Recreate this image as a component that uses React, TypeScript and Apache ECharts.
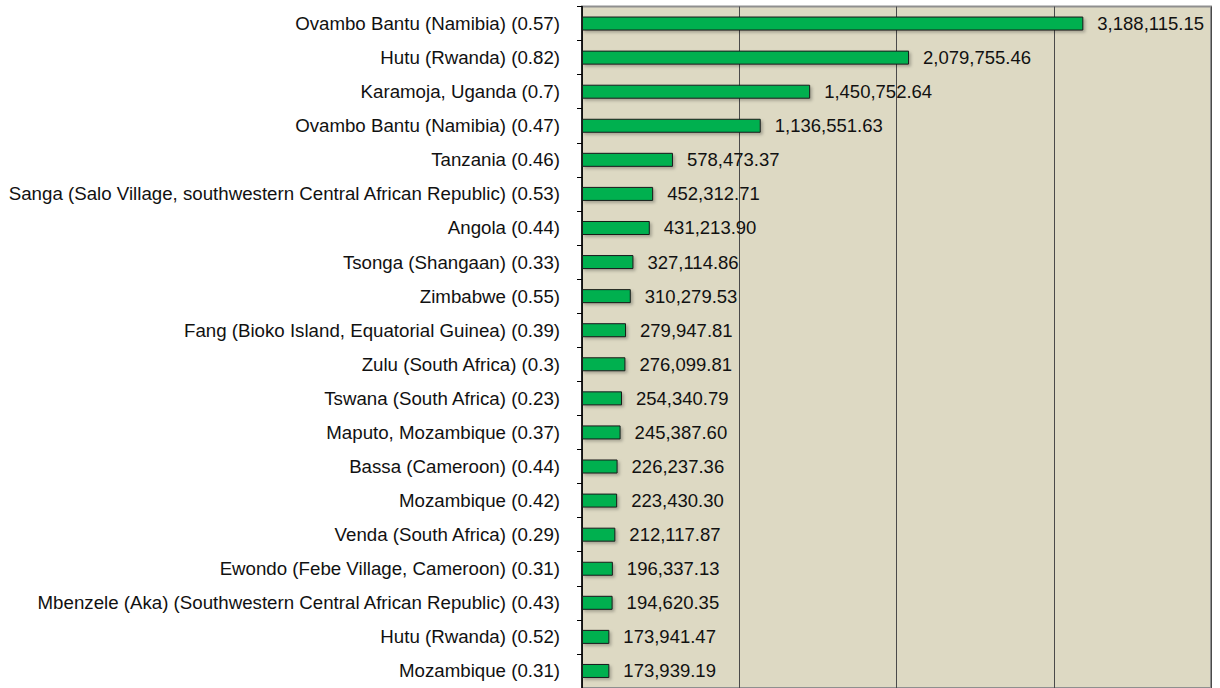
import React, { useEffect, useRef } from "react";
import * as echarts from "echarts";

const categories: string[] = [
  "Ovambo Bantu (Namibia) (0.57)",
  "Hutu (Rwanda) (0.82)",
  "Karamoja, Uganda (0.7)",
  "Ovambo Bantu (Namibia) (0.47)",
  "Tanzania (0.46)",
  "Sanga (Salo Village, southwestern Central African Republic) (0.53)",
  "Angola (0.44)",
  "Tsonga (Shangaan) (0.33)",
  "Zimbabwe (0.55)",
  "Fang (Bioko Island, Equatorial Guinea) (0.39)",
  "Zulu (South Africa) (0.3)",
  "Tswana (South Africa) (0.23)",
  "Maputo, Mozambique (0.37)",
  "Bassa (Cameroon) (0.44)",
  "Mozambique (0.42)",
  "Venda (South Africa) (0.29)",
  "Ewondo (Febe Village, Cameroon) (0.31)",
  "Mbenzele (Aka) (Southwestern Central African Republic) (0.43)",
  "Hutu (Rwanda) (0.52)",
  "Mozambique (0.31)",
];

const values: number[] = [
  3188115.15, 2079755.46, 1450752.64, 1136551.63, 578473.37, 452312.71,
  431213.9, 327114.86, 310279.53, 279947.81, 276099.81, 254340.79,
  245387.6, 226237.36, 223430.3, 212117.87, 196337.13, 194620.35,
  173941.47, 173939.19,
];

const axisMin = 0;
const axisMax = 4000000;
const axisInterval = 1000000;

const fmt = new Intl.NumberFormat("en-US", {
  minimumFractionDigits: 2,
  maximumFractionDigits: 2,
});

const FONT = "'Liberation Sans', Arial, Helvetica, sans-serif";

export default function App() {
  const ref = useRef<HTMLDivElement>(null);
  useEffect(() => {
    document.body.style.margin = "0";
    if (!ref.current) return;
    const chart = echarts.init(ref.current, null, { renderer: "svg" });
    chart.setOption({
      animation: false,
      backgroundColor: "#ffffff",
      textStyle: { fontFamily: FONT },
      grid: {
        show: true,
        left: 582,
        top: 6.5,
        right: 9,
        height: 684,
        backgroundColor: "#DDD9C3",
        borderColor: "#8f8f8f",
        borderWidth: 2,
        containLabel: false,
      },
      xAxis: {
        type: "value",
        min: axisMin,
        max: axisMax,
        interval: axisInterval,
        axisLabel: { show: false },
        axisLine: { show: false },
        axisTick: { show: false },
        splitLine: { show: true, lineStyle: { color: "#4a4a4a", width: 1 } },
      },
      yAxis: {
        type: "category",
        data: categories,
        inverse: true,
        axisLine: { show: true, lineStyle: { color: "#000000", width: 1.5 } },
        axisTick: {
          show: true,
          inside: false,
          length: 5,
          lineStyle: { color: "#000000", width: 1 },
        },
        axisLabel: {
          margin: 22,
          fontSize: 18.7,
          color: "#111111",
          fontFamily: FONT,
        },
      },
      series: [
        {
          type: "bar",
          data: values,
          barWidth: 14,
          itemStyle: {
            color: "#00B050",
            borderColor: "#1a1a1a",
            borderWidth: 1,
            shadowColor: "rgba(0,0,0,0.25)",
            shadowBlur: 3,
            shadowOffsetX: 2,
            shadowOffsetY: 2,
          },
          label: {
            show: true,
            position: "right",
            distance: 14,
            fontSize: 18.5,
            color: "#111111",
            fontFamily: FONT,
            formatter: (p: any) => fmt.format(p.value),
          },
        },
      ],
    });
    return () => chart.dispose();
  }, []);
  return <div ref={ref} style={{ width: 1220, height: 688 }} />;
}
